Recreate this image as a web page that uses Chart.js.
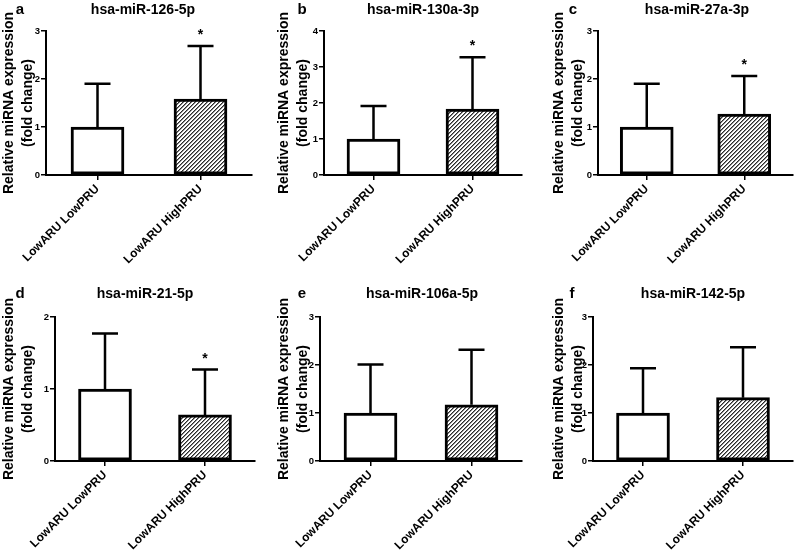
<!DOCTYPE html>
<html>
<head>
<meta charset="utf-8">
<title>Relative miRNA expression</title>
<script src="https://cdn.jsdelivr.net/npm/chart.js@4.4.1/dist/chart.umd.min.js"></script>
<style>
  body { margin: 0; background: #fff; }
  #figure { position: relative; width: 800px; height: 550px; }
  #figure canvas { position: absolute; }
</style>
</head>
<body>
<div id="figure"></div>
<script>
// ---- data ----
const panelLetters = ['a', 'b', 'c', 'd', 'e', 'f'];
const mirnaNames = ['hsa-miR-126-5p', 'hsa-miR-130a-3p', 'hsa-miR-27a-3p',
                    'hsa-miR-21-5p', 'hsa-miR-106a-5p', 'hsa-miR-142-5p'];
const groups = ['LowARU LowPRU', 'LowARU HighPRU'];
const lowPruMean = [1, 1, 1, 1, 1, 1];
const highPruMean = [1.58, 1.83, 1.27, 0.64, 1.17, 1.32];
const lowPruSd = [0.90, 0.92, 0.90, 0.77, 1.01, 0.93];
const highPruSd = [1.11, 1.44, 0.79, 0.63, 1.15, 1.05];
const yAxisMax = [3, 4, 3, 2, 3, 3];
const significant = [true, true, true, true, false, false];
const yTitle = ['Relative miRNA expression', '(fold change)'];

const FONT = "'Liberation Sans', Arial, sans-serif";

// canvas box and plot area [left, top, right, bottom] inside the canvas, per panel
const panelLayout = [
  { x: 0,   y: 0,   w: 265, h: 275, area: [46, 31, 252, 175], titleX: 143, letterX: 20, textY: 14, yTitleX: 9.5 },
  { x: 265, y: 0,   w: 265, h: 275, area: [59, 31, 257, 175], titleX: 158, letterX: 37, textY: 14, yTitleX: 19.5 },
  { x: 530, y: 0,   w: 270, h: 275, area: [68, 31, 263, 175], titleX: 167, letterX: 43, textY: 14, yTitleX: 29.5 },
  { x: 0,   y: 275, w: 265, h: 275, area: [55, 42, 255, 186], titleX: 145, letterX: 20, textY: 23, yTitleX: 9.5 },
  { x: 265, y: 275, w: 265, h: 275, area: [55, 42, 257, 186], titleX: 157, letterX: 37, textY: 23, yTitleX: 19.5 },
  { x: 530, y: 275, w: 270, h: 275, area: [63, 42, 263, 186], titleX: 163, letterX: 42, textY: 23, yTitleX: 29.5 }
];

Chart.defaults.font.family = FONT;
Chart.defaults.color = '#000';

/**
 * Diagonal hatch fill for the second group
 */
function hatchPattern() {
  const tile = document.createElement('canvas');
  tile.width = 4;
  tile.height = 4;
  const g = tile.getContext('2d');
  for (let x = 0; x < 4; x++) {
    for (let y = 0; y < 4; y++) {
      const k = (x + y) % 4;
      g.fillStyle = k === 0 ? '#2a2a2a' : (k === 1 ? '#8a8a8a' : '#fff');
      g.fillRect(x, y, 1, 1);
    }
  }
  return g.createPattern(tile, 'repeat');
}

/**
 * Error bars (upper only), significance stars, panel letter and title
 */
const panelDecor = {
  id: 'panelDecor',
  afterDatasetsDraw(chart, args, opts) {
    const ctx = chart.ctx;
    const yScale = chart.scales.y;
    const ds = chart.data.datasets[0];
    const meta = chart.getDatasetMeta(0);
    ctx.save();
    ctx.strokeStyle = '#000';
    ctx.fillStyle = '#000';
    ctx.lineWidth = 2.5;
    meta.data.forEach((bar, i) => {
      const top = yScale.getPixelForValue(ds.data[i] + ds.sd[i]);
      ctx.beginPath();
      ctx.moveTo(bar.x, bar.y);
      ctx.lineTo(bar.x, top);
      ctx.moveTo(bar.x - 13, top);
      ctx.lineTo(bar.x + 13, top);
      ctx.stroke();
      if (ds.starred[i]) {
        ctx.font = 'bold 14px ' + FONT;
        ctx.textAlign = 'center';
        ctx.textBaseline = 'alphabetic';
        ctx.fillText('*', bar.x, top - 7);
      }
    });
    ctx.textAlign = 'center';
    ctx.textBaseline = 'alphabetic';
    ctx.font = 'bold 15px ' + FONT;
    ctx.fillText(opts.letter, opts.letterX, opts.textY);
    ctx.font = 'bold 14px ' + FONT;
    ctx.fillText(opts.title, opts.titleX, opts.textY);
    ctx.restore();
  }
};

const figure = document.getElementById('figure');
const hatch = hatchPattern();

panelLayout.forEach((L, p) => {
  const canvas = document.createElement('canvas');
  canvas.width = L.w;
  canvas.height = L.h;
  canvas.style.left = L.x + 'px';
  canvas.style.top = L.y + 'px';
  canvas.style.width = L.w + 'px';
  canvas.style.height = L.h + 'px';
  figure.appendChild(canvas);

  new Chart(canvas.getContext('2d'), {
    type: 'bar',
    data: {
      labels: groups,
      datasets: [{
        data: [lowPruMean[p], highPruMean[p]],
        sd: [lowPruSd[p], highPruSd[p]],
        starred: [false, significant[p]],
        backgroundColor: ['#fff', hatch],
        borderColor: '#000',
        borderWidth: 3,
        borderSkipped: false,
        barThickness: 53
      }]
    },
    options: {
      responsive: false,
      animation: false,
      devicePixelRatio: 1,
      layout: {
        padding: { left: 0, top: L.area[1], right: L.w - L.area[2], bottom: 0 }
      },
      plugins: {
        legend: { display: false },
        tooltip: { enabled: false },
        panelDecor: {
          letter: panelLetters[p],
          title: mirnaNames[p],
          letterX: L.letterX,
          titleX: L.titleX,
          textY: L.textY
        }
      },
      scales: {
        x: {
          grid: { offset: false, drawOnChartArea: false, tickLength: 5, color: '#000', lineWidth: 1.5 },
          border: { color: '#000', width: 2 },
          ticks: {
            autoSkip: false,
            minRotation: 45,
            maxRotation: 45,
            padding: 2,
            color: '#000',
            font: { size: 12, weight: 'bold' }
          },
          afterFit: s => { s.height = L.h - L.area[3]; }
        },
        y: {
          min: 0,
          max: yAxisMax[p],
          ticks: { stepSize: 1, padding: 1, color: '#000', font: { size: 9.5, weight: 'bold' } },
          grid: { drawOnChartArea: false, tickLength: 5, color: '#000', lineWidth: 1.5 },
          border: { color: '#000', width: 2 },
          title: {
            display: true,
            text: yTitle,
            color: '#000',
            font: { size: 14, weight: 'bold', lineHeight: 1.36 },
            padding: { top: L.yTitleX - 9.5, bottom: 0 }
          },
          afterFit: s => { s.width = L.area[0]; }
        }
      }
    },
    plugins: [panelDecor]
  });
});
</script>
</body>
</html>
